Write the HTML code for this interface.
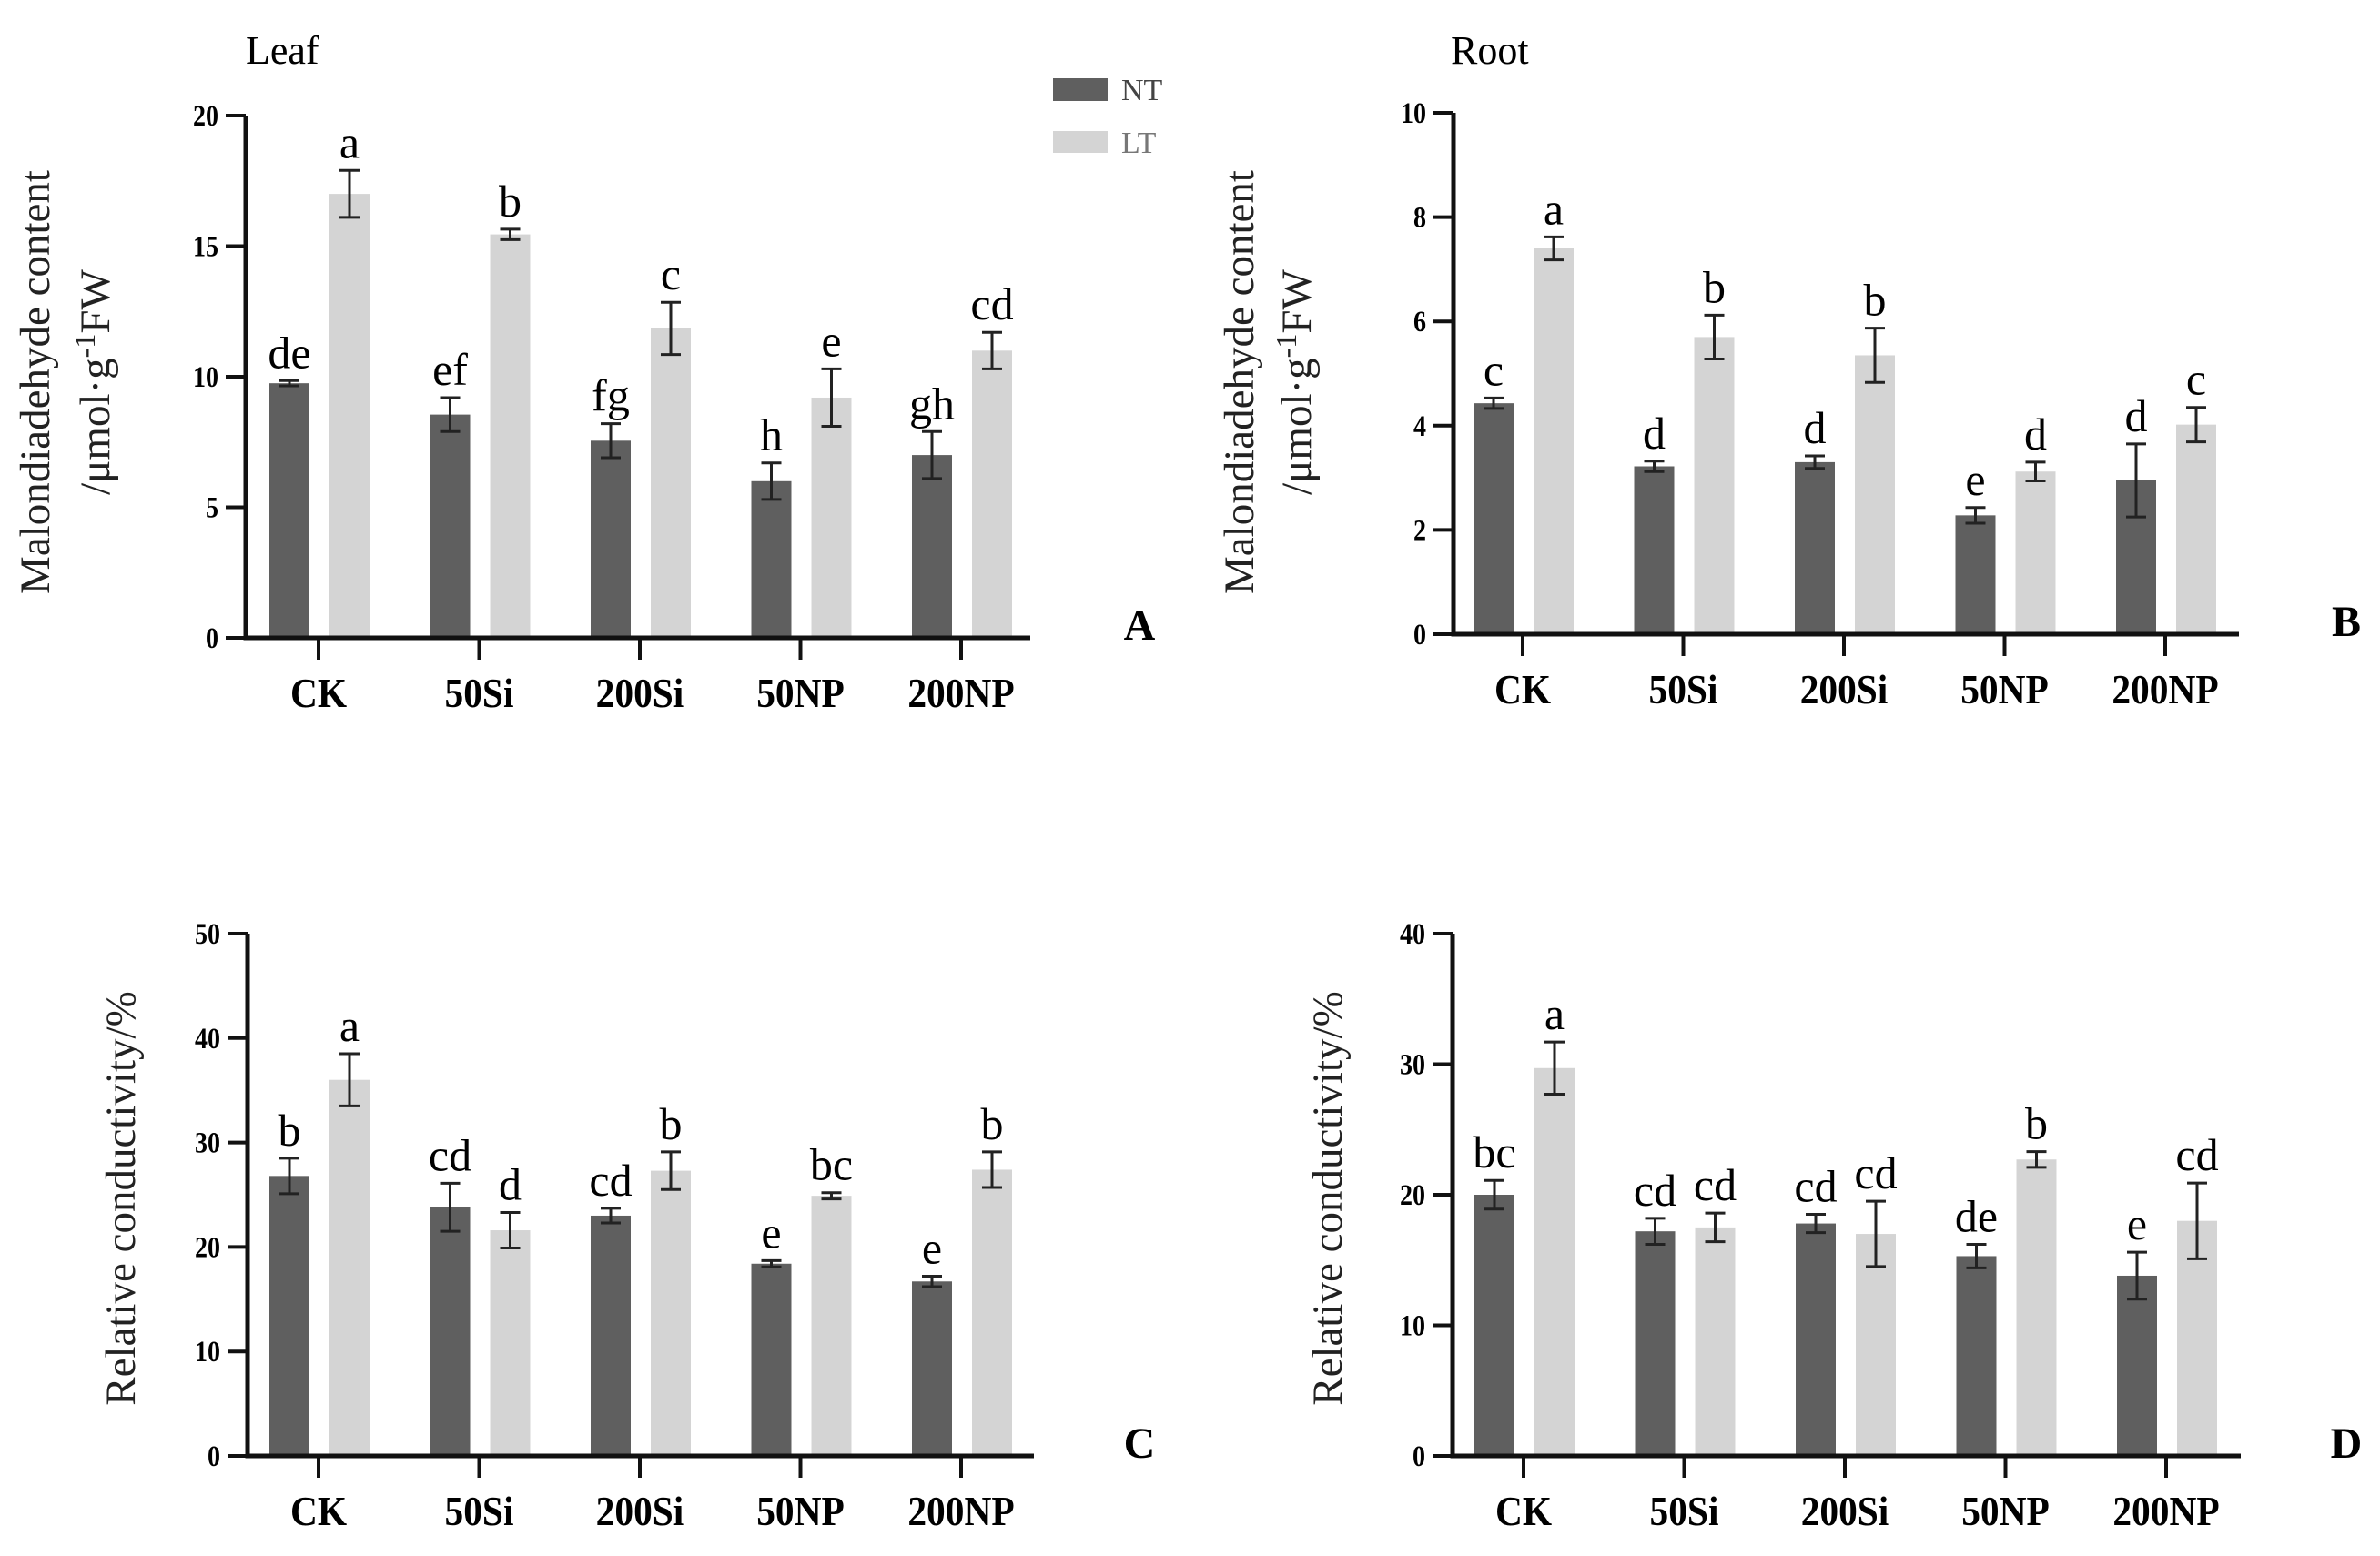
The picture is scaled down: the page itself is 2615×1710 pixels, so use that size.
<!DOCTYPE html>
<html><head><meta charset="utf-8"><style>
html,body{margin:0;padding:0;background:#fff;width:2615px;height:1710px;overflow:hidden}
svg{display:block}
text{font-family:"Liberation Serif",serif}
</style></head><body>
<svg id="fig" width="2615" height="1710" viewBox="0 0 2615 1710" xmlns="http://www.w3.org/2000/svg">
<text x="270" y="70" font-size="44">Leaf</text>
<text x="1594" y="70" font-size="44">Root</text>
<g>
<rect x="1157" y="86" width="60" height="25" fill="#5f5f5f"/>
<text x="1232" y="110" font-size="34" fill="#444">NT</text>
<rect x="1157" y="144" width="60" height="24" fill="#d4d4d4"/>
<text x="1232" y="168" font-size="34" fill="#777">LT</text>
</g>
</svg>
<script>
const categories = ["CK","50Si","200Si","50NP","200NP"];
const A_nt = [9.75,8.55,7.55,6.0,7.0];
const A_nt_err = [0.1,0.65,0.65,0.7,0.9];
const A_lt = [17.0,15.45,11.85,9.2,11.0];
const A_lt_err = [0.9,0.2,1.0,1.1,0.7];
const A_nt_sig = ["de","ef","fg","h","gh"];
const A_lt_sig = ["a","b","c","e","cd"];
const A_ticks = [0,5,10,15,20];
const B_nt = [4.43,3.22,3.3,2.28,2.95];
const B_nt_err = [0.1,0.1,0.12,0.15,0.7];
const B_lt = [7.4,5.7,5.35,3.12,4.02];
const B_lt_err = [0.22,0.42,0.52,0.18,0.33];
const B_nt_sig = ["c","d","d","e","d"];
const B_lt_sig = ["a","b","b","d","c"];
const B_ticks = [0,2,4,6,8,10];
const C_nt = [26.8,23.8,23.0,18.4,16.7];
const C_nt_err = [1.7,2.3,0.7,0.3,0.5];
const C_lt = [36.0,21.6,27.3,24.9,27.4];
const C_lt_err = [2.5,1.7,1.8,0.3,1.7];
const C_nt_sig = ["b","cd","cd","e","e"];
const C_lt_sig = ["a","d","b","bc","b"];
const C_ticks = [0,10,20,30,40,50];
const D_nt = [20.0,17.2,17.8,15.3,13.8];
const D_nt_err = [1.1,1.0,0.7,0.9,1.8];
const D_lt = [29.7,17.5,17.0,22.7,18.0];
const D_lt_err = [2.0,1.1,2.5,0.6,2.9];
const D_nt_sig = ["bc","cd","cd","de","e"];
const D_lt_sig = ["a","cd","cd","b","cd"];
const D_ticks = [0,10,20,30,40];

const NS="http://www.w3.org/2000/svg";
const svg=document.getElementById('fig');
function mk(tag,attrs,parent){const e=document.createElementNS(NS,tag);for(const k in attrs)e.setAttribute(k,attrs[k]);(parent||svg).appendChild(e);return e;}

function panel(id,cfg){
  const g=mk('g',{});
  
  
  const {ax,y0,yTop,max,tick0,xEnd,ticks,nt,ntE,lt,ltE,ntS,ltS,title,letter,lx}=cfg;
  const ys=v=>y0-(v/max)*(y0-yTop);
  const xs=i=>tick0+i*176.5;
  categories.forEach((c,i)=>{
    [[nt,ntE,ntS,-32,'#5f5f5f','nt'],[lt,ltE,ltS,34,'#d4d4d4','lt']].forEach(([vals,errs,sig,off,col,nm])=>{
      const cx=xs(i)+off, v=vals[i], e=errs[i];
      const r=mk('rect',{x:cx-22,y:ys(v),width:44,height:y0-ys(v),fill:col},g);
      
      
      const eb=mk('path',{d:`M${cx},${ys(v+e)}V${ys(v-e)}M${cx-11},${ys(v+e)}H${cx+11}M${cx-11},${ys(v-e)}H${cx+11}`,stroke:'#222','stroke-width':3,fill:'none'},g);
      
      
      const t=mk('text',{x:cx,y:ys(v+e)-14,'font-size':50,'text-anchor':'middle'},g);
      t.textContent=sig[i];
      
      
      });
    const tk=mk('line',{x1:xs(i),x2:xs(i),y1:y0,y2:y0+24,stroke:'#111','stroke-width':4},g);
    
    
    const lb=mk('text',{x:xs(i),y:y0+76,'font-size':46,'font-weight':'bold','text-anchor':'middle',transform:`translate(${xs(i)},0) scale(0.9,1) translate(${-xs(i)},0)`},g);
    lb.textContent=c;
    
    
  });
  const axl=mk('path',{d:`M${ax},${yTop}V${y0}H${xEnd}`,stroke:'#111','stroke-width':5,fill:'none'},g);
  
  
  ticks.forEach(t=>{
    const l=mk('line',{x1:ax-22,x2:ax,y1:ys(t),y2:ys(t),stroke:'#111','stroke-width':4},g);
    
    
    const tx=mk('text',{x:ax-30,y:ys(t)+11,'font-size':33,'font-weight':'bold','text-anchor':'end',transform:`translate(${ax-30},0) scale(0.85,1) translate(${-(ax-30)},0)`},g);
    tx.textContent=t;
    
    
  });
  title.forEach(line=>{
    const [x,y,txt]=line;
    const tt=mk('text',{x:x,y:y,'font-size':47,'text-anchor':'middle',fill:'#222',transform:`rotate(-90 ${x} ${y})`},g);
    tt.innerHTML=txt;
    
    
  });
  const pl=mk('text',{x:lx,y:y0+2,'font-size':48,'font-weight':'bold','text-anchor':'middle'},g);
  pl.textContent=letter;
  
  
}
const mda1='Malondiadehyde content';
const mda2='/μmol·g<tspan dy="-16" font-size="32">-1</tspan><tspan dy="16">FW</tspan>';
panel('a',{ax:270,y0:701,yTop:127,max:20,tick0:350,xEnd:1132,ticks:A_ticks,nt:A_nt,ntE:A_nt_err,lt:A_lt,ltE:A_lt_err,ntS:A_nt_sig,ltS:A_lt_sig,
  title:[[54,420,mda1],[120,420,mda2]],letter:'A',lx:1252});
panel('b',{ax:1597,y0:697,yTop:124,max:10,tick0:1673,xEnd:2460,ticks:B_ticks,nt:B_nt,ntE:B_nt_err,lt:B_lt,ltE:B_lt_err,ntS:B_nt_sig,ltS:B_lt_sig,
  title:[[1377,420,mda1],[1440,420,mda2]],letter:'B',lx:2578});
panel('c',{ax:272,y0:1600,yTop:1026,max:50,tick0:350,xEnd:1136,ticks:C_ticks,nt:C_nt,ntE:C_nt_err,lt:C_lt,ltE:C_lt_err,ntS:C_nt_sig,ltS:C_lt_sig,
  title:[[148,1317,'Relative conductivity/%']],letter:'C',lx:1252});
panel('d',{ax:1596,y0:1600,yTop:1026,max:40,tick0:1674,xEnd:2462,ticks:D_ticks,nt:D_nt,ntE:D_nt_err,lt:D_lt,ltE:D_lt_err,ntS:D_nt_sig,ltS:D_lt_sig,
  title:[[1474,1317,'Relative conductivity/%']],letter:'D',lx:2578});
</script>
</body></html>
